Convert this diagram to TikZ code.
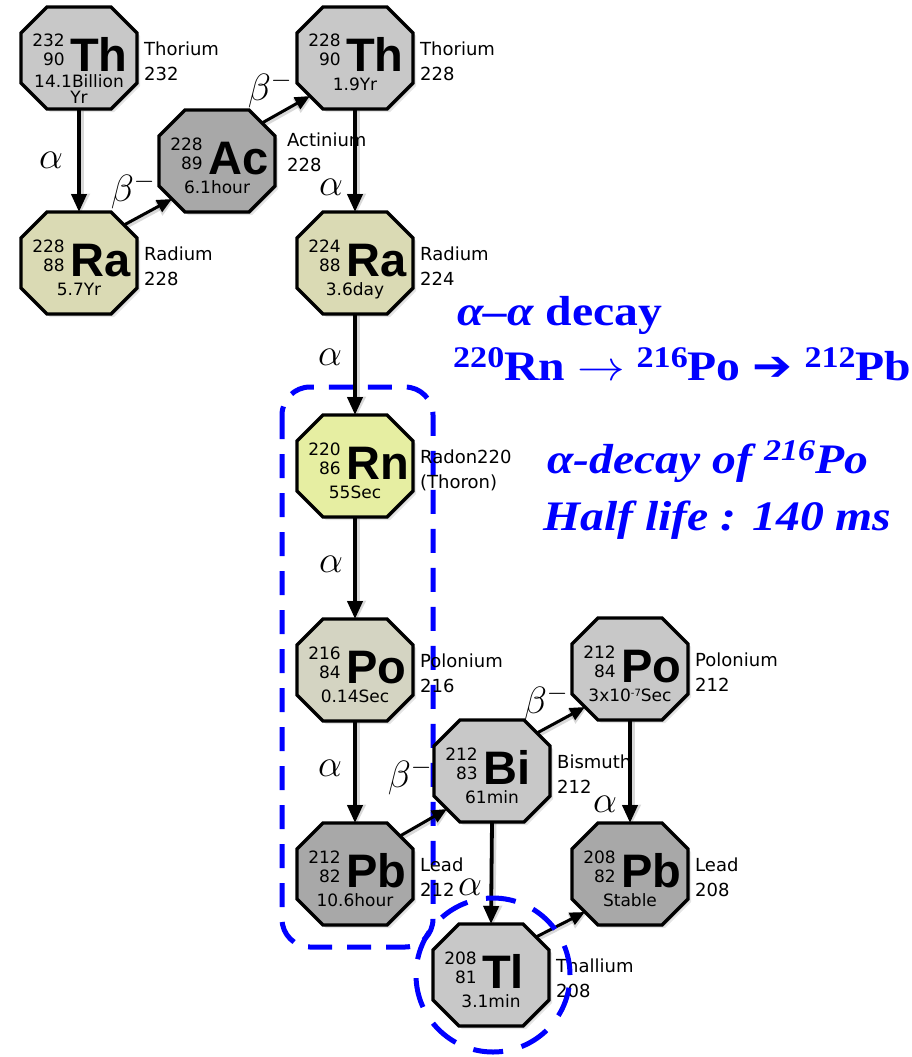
\documentclass[tikz,border=0pt]{standalone}
\usepackage{fix-cm}
\usepackage{fontspec}
\setmainfont{DejaVu Sans}
\newfontfamily\symfont{Liberation Sans}
\newfontfamily\slidefont{Liberation Serif}
\newfontfamily\dingfont{DejaVu Sans}
\usetikzlibrary{arrows.meta}

\definecolor{grayL}{HTML}{C8C8C8}
\definecolor{grayD}{HTML}{A8A8A8}
\definecolor{radc}{HTML}{DADAB4}
\definecolor{rnc}{HTML}{E6EEA2}
\definecolor{poc}{HTML}{D4D4C2}

\tikzset{
  x=1pt, y=-1pt,
  nucbox/.style={shape=rectangle, minimum width=116pt, minimum height=102pt, inner sep=0pt, outer sep=0pt},
  octo/.style={draw=black, line width=3.4pt, line join=miter},
  num/.style={inner sep=0pt, font=\fontsize{17}{19}\selectfont},
  sym/.style={inner sep=0pt, font=\symfont\bfseries\fontsize{47}{50}\selectfont},
  lab/.style={inner sep=0pt, align=left, anchor=north west, font=\fontsize{18}{25}\selectfont},
  greek/.style={inner sep=0pt, font=\fontsize{38}{40}\selectfont},
  decay/.style={line width=3.8pt, -{Triangle[length=18pt,width=15pt]},
    preaction={draw=black, opacity=.15, line width=6pt, -{Triangle[length=20pt,width=18pt]},
      transform canvas={shift={(1.5pt,-1.5pt)}}}},
  decayd/.style={line width=3pt, -{Triangle[length=15pt,width=13pt]},
    preaction={draw=black, opacity=.15, line width=5pt, -{Triangle[length=17pt,width=15pt]},
      transform canvas={shift={(1.5pt,-1.5pt)}}}},
  hl/.style={draw=blue, line width=5pt, dash pattern=on 24pt off 15pt},
  hlc/.style={draw=blue, line width=5pt, dash pattern=on 30pt off 19pt},
  note/.style={inner sep=0pt, anchor=base west, text=blue, font=\slidefont\bfseries\fontsize{42}{48}\selectfont},
}

% octagon drawn round the box of node #1, filled with colour #2
\newcommand\octagon[2]{%
  \foreach \s/\o in {3/.10, 1.5/.16}{%
    \fill[black, opacity=\o, transform canvas={shift={(\s pt,-\s pt)}}]
      ([xshift=26pt]#1.north west) -- ([xshift=-26pt]#1.north east) -- ([yshift=-26pt]#1.north east) --
      ([yshift=26pt]#1.south east) -- ([xshift=-26pt]#1.south east) -- ([xshift=26pt]#1.south west) --
      ([yshift=26pt]#1.south west) -- ([yshift=-26pt]#1.north west) -- cycle;}
  \draw[octo, fill=#2]
      ([xshift=26pt]#1.north west) -- ([xshift=-26pt]#1.north east) -- ([yshift=-26pt]#1.north east) --
      ([yshift=26pt]#1.south east) -- ([xshift=-26pt]#1.south east) -- ([xshift=26pt]#1.south west) --
      ([yshift=26pt]#1.south west) -- ([yshift=-26pt]#1.north west) -- cycle;}

% name, x, y, fill, mass number, atomic number, symbol, half-life, side label
\newcommand\nuclide[9]{%
  \node[nucbox] (#1) at (#2,#3) {};
  \octagon{#1}{#4}
  \node[num, anchor=base east] (#1-a) at ([shift={(-14pt,11pt)}]#1.center) {#5};
  \node[num, anchor=base east] (#1-z) at ([shift={(-14pt,-8pt)}]#1.center) {#6};
  \node[sym, anchor=base west] (#1-s) at ([shift={(-9pt,-13pt)}]#1.center) {#7};
  \node[num, anchor=base] (#1-t) at ([shift={(0pt,-32pt)}]#1.center) {#8};
  \node[lab] (#1-l) at ([shift={(65pt,16pt)}]#1.center) {#9};
}

\newcommand\wide[1]{\scalebox{1.135}[1]{#1}}
\newcommand\sups[1]{\raisebox{13pt}{\fontsize{30}{30}\selectfont #1}}

\begin{document}
\begin{tikzpicture}
\useasboundingbox (0,0) rectangle (912,1057);

% highlighted part of the chain
\draw[hl, rounded corners=28pt] (282,387) rectangle (433,947);

% decay chain members
\nuclide{th232}{79}{58}{grayL}{232}{90}{Th}{}{Thorium\\232}
\node[num, anchor=base] (th232-t1) at ([shift={(0pt,-29pt)}]th232.center) {14.1Billion};
\node[num, anchor=base] (th232-t2) at ([shift={(0pt,-45pt)}]th232.center) {Yr};
\nuclide{ra228}{79}{263}{radc}{228}{88}{Ra}{5.7Yr}{Radium\\228}
\nuclide{ac228}{217}{161}{grayD}{228}{89}{Ac}{6.1hour}{}
\node[lab] (ac228-l2) at ([shift={(70pt,28pt)}]ac228.center) {Actinium\\228};
\nuclide{th228}{355}{58}{grayL}{228}{90}{Th}{1.9Yr}{Thorium\\228}
\nuclide{ra224}{355}{263}{radc}{224}{88}{Ra}{3.6day}{Radium\\224}
\nuclide{rn220}{355}{466}{rnc}{220}{86}{Rn}{55Sec}{Radon220\\(Thoron)}
\nuclide{po216}{355}{670}{poc}{216}{84}{Po}{0.14Sec}{Polonium\\216}
\nuclide{pb212}{355}{874}{grayD}{212}{82}{Pb}{10.6hour}{Lead\\212}
\nuclide{bi212}{492}{771}{grayL}{212}{83}{Bi}{61min}{Bismuth\\212}
\nuclide{po212}{630}{669}{grayL}{212}{84}{Po}{3x10\raisebox{5pt}{\fontsize{10}{10}\selectfont -7}Sec}{Polonium\\212}
\nuclide{pb208}{630}{874}{grayD}{208}{82}{Pb}{Stable}{Lead\\208}
\nuclide{tl208}{491}{975}{grayL}{208}{81}{Tl}{3.1min}{Thallium\\208}

% alpha decays
\draw[decay] (th232.south) -- (ra228.north);
\draw[decay] (th228.south) -- (ra224.north);
\draw[decay] (ra224.south) -- (rn220.north);
\draw[decay] (rn220.south) -- (po216.north);
\draw[decay] (po216.south) -- (pb212.north);
\draw[decay] (bi212.south) -- (tl208.north);
\draw[decay] (po212.south) -- (pb208.north);

% beta decays (and the last alpha step of Tl)
\draw[decayd] ([shift={(-13pt,-13pt)}]ra228.north east) -- ([shift={(13pt,13pt)}]ac228.south west);
\draw[decayd] ([shift={(-13pt,-13pt)}]ac228.north east) -- ([shift={(13pt,13pt)}]th228.south west);
\draw[decayd] ([shift={(-13pt,-13pt)}]pb212.north east) -- ([shift={(13pt,13pt)}]bi212.south west);
\draw[decayd] ([shift={(-13pt,-13pt)}]bi212.north east) -- ([shift={(13pt,13pt)}]po212.south west);
\draw[decayd] ([shift={(-13pt,-13pt)}]tl208.north east) -- ([shift={(13pt,13pt)}]pb208.south west);

% decay mode labels
\node[greek] (g1) at (51,160) {$\alpha$};
\node[greek] (g2) at (133,191) {$\beta^-$};
\node[greek] (g3) at (270,90) {$\beta^-$};
\node[greek] (g4) at (331,187) {$\alpha$};
\node[greek] (g5) at (330,357) {$\alpha$};
\node[greek] (g6) at (331,564) {$\alpha$};
\node[greek] (g7) at (330,768) {$\alpha$};
\node[greek] (g8) at (410,777) {$\beta^-$};
\node[greek] (g9) at (546,703) {$\beta^-$};
\node[greek] (g10) at (605,804) {$\alpha$};
\node[greek] (g11) at (470,887) {$\alpha$};

% highlighted thallium
\draw[hlc] (493,975) circle (77pt);

% notes
\node[note] (n1) at (457,325) {\wide{\itshape α–α\upshape\ decay}};
\node[note] (n2) at (453,380) {\wide{\sups{220}Rn $\rightarrow$ \sups{216}Po {\dingfont ➔} \sups{212}Pb}};
\node[note] (n3) at (547,473) {\wide{\itshape α-decay of \sups{216}Po}};
\node[note] (n4) at (543,530) {\wide{\itshape Half life : 140 ms}};
\end{tikzpicture}
\end{document}
